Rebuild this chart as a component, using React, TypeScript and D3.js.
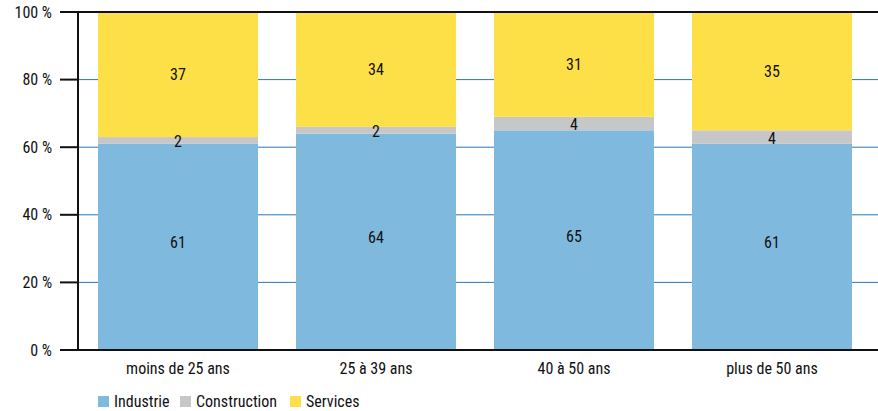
import React from "react";
import * as d3 from "d3";

const categories = ["moins de 25 ans", "25 à 39 ans", "40 à 50 ans", "plus de 50 ans"];
const seriesNames = ["Industrie", "Construction", "Services"];
const industrie = [61, 64, 65, 61];
const construction = [2, 2, 4, 4];
const services = [37, 34, 31, 35];
const yTicks = [0, 20, 40, 60, 80, 100];
const colors = ["#80b9de", "#c6c7c8", "#fde047"];

const W = 878;
const H = 411;
const FONT = "'Liberation Sans Narrow', 'Roboto Condensed', 'DejaVu Sans Condensed', Arial, sans-serif";
// small vertical nudges for the in-bar value labels, per series
const labelNudge = [-4, 1, 0];

export default function App() {
  const x = d3
    .scaleBand<string>()
    .domain(categories)
    .range([79, 871])
    .paddingInner(0.192)
    .paddingOuter(0.096);
  const y = d3.scaleLinear().domain([0, 100]).range([350, 12]);

  const rows = categories.map((c, i) => ({
    cat: c,
    Industrie: industrie[i],
    Construction: construction[i],
    Services: services[i],
  }));
  const stacked = d3.stack<any>().keys(seriesNames)(rows);

  const legendX = [98, 180, 290];

  return (
    <svg
      width={W}
      height={H}
      style={{ position: "absolute", left: 0, top: 0, fontFamily: FONT }}
    >
      {/* grid lines */}
      {yTicks
        .filter((t) => t > 0 && t < 100)
        .map((t) => (
          <line key={t} x1={78} x2={W} y1={y(t)} y2={y(t)} stroke="#2a78b6" strokeWidth={1} />
        ))}

      {/* stacked bars */}
      {stacked.map((s, si) =>
        s.map((d, i) => (
          <rect
            key={`${si}-${i}`}
            x={x(categories[i])}
            y={y(d[1])}
            width={x.bandwidth()}
            height={y(d[0]) - y(d[1])}
            fill={colors[si]}
          />
        ))
      )}

      {/* value labels */}
      {stacked.map((s, si) =>
        s.map((d, i) => (
          <text
            key={`l-${si}-${i}`}
            x={(x(categories[i]) as number) + x.bandwidth() / 2}
            y={(y(d[0]) + y(d[1])) / 2 + labelNudge[si]}
            textAnchor="middle"
            dominantBaseline="central"
            fontSize={16}
            fill="#111"
          >
            {d[1] - d[0]}
          </text>
        ))
      )}

      {/* top line, bottom axis, y axis */}
      <line x1={60} x2={W} y1={y(100)} y2={y(100)} stroke="#111" strokeWidth={2} />
      <line x1={60} x2={W} y1={y(0)} y2={y(0)} stroke="#111" strokeWidth={2} />
      <line x1={78} x2={78} y1={y(100)} y2={y(0)} stroke="#111" strokeWidth={2} />
      {yTicks.map((t) => (
        <g key={`t-${t}`}>
          <line x1={60} x2={78} y1={y(t)} y2={y(t)} stroke="#111" strokeWidth={2} />
          <text
            x={52}
            y={y(t)}
            textAnchor="end"
            dominantBaseline="central"
            fontSize={16}
            fill="#111"
          >
            {`${t} %`}
          </text>
        </g>
      ))}

      {/* category labels */}
      {categories.map((c) => (
        <text
          key={c}
          x={(x(c) as number) + x.bandwidth() / 2}
          y={368}
          textAnchor="middle"
          dominantBaseline="central"
          fontSize={16}
          fill="#111"
        >
          {c}
        </text>
      ))}

      {/* legend */}
      {seriesNames.map((n, i) => (
        <g key={n} transform={`translate(${legendX[i]},396)`}>
          <rect x={0} y={0} width={11} height={11} fill={colors[i]} />
          <text x={16} y={11} fontSize={16} fill="#111">
            {n}
          </text>
        </g>
      ))}
    </svg>
  );
}
